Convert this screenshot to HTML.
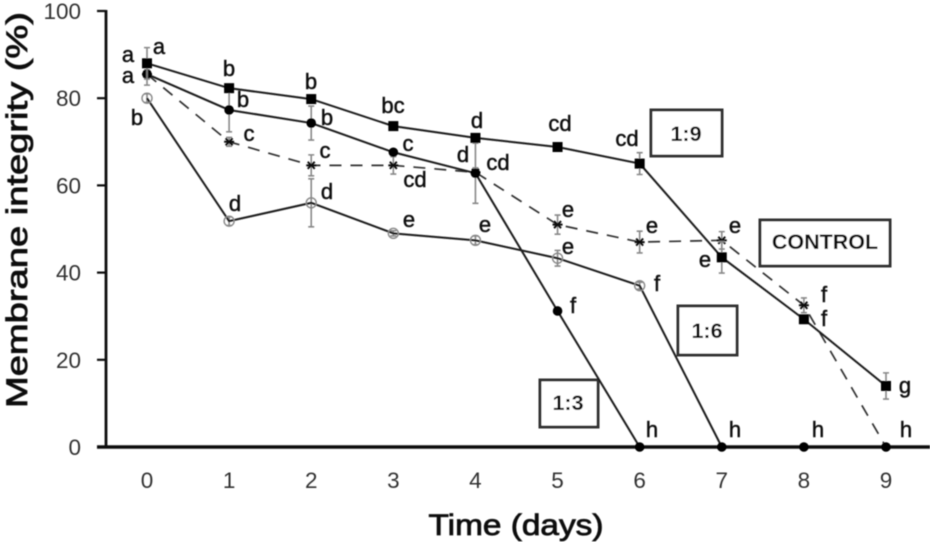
<!DOCTYPE html>
<html>
<head>
<meta charset="utf-8">
<style>
html,body{margin:0;padding:0;background:#fff;width:930px;height:542px;overflow:hidden}
svg{display:block;font-family:"Liberation Sans",sans-serif}
.sig{font-size:22px;font-weight:400;fill:#111;stroke:#111;stroke-width:.45px;text-anchor:middle}
.tick{font-size:22.5px;fill:#333}
.box{fill:#fff;stroke:#333;stroke-width:3}
.boxt{font-size:21.5px;font-weight:700;fill:#111;text-anchor:middle}
</style>
</head>
<body>
<svg id="chart" width="930" height="542" viewBox="0 0 930 542" xmlns="http://www.w3.org/2000/svg">
  <defs><filter id="soft" x="-5%" y="-5%" width="110%" height="110%"><feGaussianBlur stdDeviation="0.5"/></filter></defs>
  <g id="root" filter="url(#soft)">
    <g id="axes"></g>
    <g><rect class="box" x="651" y="110" width="71" height="46"/><text class="boxt" x="686" y="141">1:9</text></g>
    <g><rect class="box" x="760" y="220" width="130" height="46"/><text class="boxt" x="825" y="249">CONTROL</text></g>
    <g><rect class="box" x="678" y="306" width="59" height="49"/><text class="boxt" x="707" y="338">1:6</text></g>
    <g><rect class="box" x="540" y="380" width="58" height="47"/><text class="boxt" x="568" y="410">1:3</text></g>
    <g id="series"></g>
    <text transform="translate(27,210) rotate(-90)" text-anchor="middle" font-size="30" fill="#111" stroke="#111" stroke-width="0.8" textLength="396" lengthAdjust="spacingAndGlyphs">Membrane integrity (%)</text>
    <text x="516" y="535" text-anchor="middle" font-size="30" fill="#111" stroke="#111" stroke-width="0.8" textLength="175" lengthAdjust="spacingAndGlyphs">Time (days)</text>

    <g>
      <text class="sig" x="128" y="62">a</text><text class="sig" x="159" y="54">a</text><text class="sig" x="128" y="83">a</text><text class="sig" x="137" y="125">b</text>
      <text class="sig" x="229" y="76">b</text><text class="sig" x="243" y="107">b</text><text class="sig" x="249" y="141">c</text><text class="sig" x="235" y="211">d</text>
      <text class="sig" x="311" y="89">b</text><text class="sig" x="327" y="125">b</text><text class="sig" x="325" y="158">c</text><text class="sig" x="327" y="199">d</text>
      <text class="sig" x="393" y="113">bc</text><text class="sig" x="408" y="151">c</text><text class="sig" x="415" y="187">cd</text><text class="sig" x="409" y="227">e</text>
      <text class="sig" x="477" y="128">d</text><text class="sig" x="463" y="162">d</text><text class="sig" x="498" y="170">cd</text><text class="sig" x="485" y="232">e</text>
      <text class="sig" x="560" y="131">cd</text><text class="sig" x="568" y="217">e</text><text class="sig" x="568" y="254">e</text><text class="sig" x="573" y="313">f</text>
      <text class="sig" x="627" y="146">cd</text><text class="sig" x="652" y="233">e</text><text class="sig" x="657" y="291">f</text>
      <text class="sig" x="735" y="233">e</text><text class="sig" x="705" y="267">e</text>
      <text class="sig" x="824" y="302">f</text><text class="sig" x="824" y="326">f</text><text class="sig" x="905" y="393">g</text>
      <text class="sig" x="652" y="437">h</text><text class="sig" x="735" y="437">h</text><text class="sig" x="818" y="437">h</text><text class="sig" x="906" y="437">h</text>
    </g>
  </g>
</svg>
<script>
var days = [0, 1, 2, 3, 4, 5, 6, 7, 8, 9];
var yTicks = [0, 20, 40, 60, 80, 100];

var ratio19Values = [88, 82.3, 79.8, 73.6, 70.9, 68.8, 65, 43.5, 29.3, 14];
var ratio19Errors = [3.6, 0, 0, 0, 0, 0, 2.5, 3.6, 0, 3];

var ratio13Values = [85.5, 77.3, 74.3, 67.6, 62.8, 31.2, 0];
var ratio13Errors = [2.5, 5, 3.9, 0, 6.9, 0, 0];

var controlValues = [85.5, 70, 64.6, 64.6, 63, 51, 47, 47.4, 32.5, 0];
var controlErrors = [1, 1, 2.4, 2, 1, 2.2, 2.5, 2, 1.7, 0];

var ratio16Values = [80, 51.8, 56, 49, 47.4, 43.3, 37, 0];
var ratio16Errors = [1, 1, 5.5, 0.6, 1, 1.8, 0.8, 0];

var baselineDays = [6, 7, 8, 9];
var baselineValues = [0, 0, 0, 0];

var NS = 'http://www.w3.org/2000/svg';
function xScale(d) { return 147 + d * (886 - 147) / 9; }
function yScale(v) { return 447 - v * (447 - 11) / 100; }
function make(parent, tag, attrs) {
  var el = document.createElementNS(NS, tag);
  for (var k in attrs) el.setAttribute(k, attrs[k]);
  parent.appendChild(el);
  return el;
}

var axes = document.getElementById('axes');
var seriesLayer = document.getElementById('series');

var yAxis = make(axes, 'line', {x1: 106, x2: 106, y1: yScale(100) - 1, y2: yScale(0) + 1, stroke: '#111', 'stroke-width': 2.8});


var xAxis = make(axes, 'line', {x1: 97, x2: 930, y1: yScale(0), y2: yScale(0), stroke: '#111', 'stroke-width': 3.4});



yTicks.forEach(function (t) {
  var m = make(axes, 'line', {x1: 97, x2: 106, y1: yScale(t), y2: yScale(t), stroke: '#111', 'stroke-width': 2.2});
  
  
  var l = make(axes, 'text', {x: 81, y: yScale(t) + 8, 'class': 'tick', 'text-anchor': 'end'});
  l.textContent = t;
  
  
});
days.forEach(function (d) {
  var l = make(axes, 'text', {x: xScale(d), y: 488, 'class': 'tick', 'text-anchor': 'middle'});
  l.textContent = d;
  
  
});

function drawErrors(g, values, errors) {
  values.forEach(function (v, i) {
    var e = errors[i];
    if (!e) return;
    var x = xScale(days[i]), top = yScale(v + e), bot = yScale(v - e);
    var p = make(g, 'path', {
      d: 'M' + x + ' ' + top + 'V' + bot + 'M' + (x - 3) + ' ' + top + 'H' + (x + 3) + 'M' + (x - 3) + ' ' + bot + 'H' + (x + 3),
      stroke: '#888', 'stroke-width': 1.6, fill: 'none'
    });
    
    
  });
}
function drawLine(g, values, dashed) {
  var pts = values.map(function (v, i) { return xScale(days[i]) + ',' + yScale(v); }).join(' ');
  var attrs = {points: pts, fill: 'none', stroke: dashed ? '#333' : '#1a1a1a', 'stroke-width': dashed ? 1.7 : 2};
  if (dashed) attrs['stroke-dasharray'] = '12 9';
  var pl = make(g, 'polyline', attrs);
  
  
}
function drawMarker(g, kind, x, y) {
  var m;
  if (kind === 'square') {
    m = make(g, 'rect', {x: x - 5, y: y - 5, width: 10, height: 10, fill: '#000'});
  } else if (kind === 'dot') {
    m = make(g, 'circle', {cx: x, cy: y, r: 4.8, fill: '#000'});
  } else if (kind === 'ring') {
    m = make(g, 'circle', {cx: x, cy: y, r: 5, fill: 'none', stroke: '#888', 'stroke-width': 1.4});
  } else {
    m = make(g, 'path', {
      d: 'M' + (x - 3.5) + ' ' + (y - 3.5) + 'L' + (x + 3.5) + ' ' + (y + 3.5) + 'M' + (x + 3.5) + ' ' + (y - 3.5) + 'L' + (x - 3.5) + ' ' + (y + 3.5) + 'M' + (x - 5) + ' ' + y + 'H' + (x + 5),
      stroke: '#111', 'stroke-width': 2, fill: 'none'
    });
  }
  
  
}
function drawSeries(name, values, errors, kind, dashed) {
  var g = make(seriesLayer, 'g', {});
  
  
  drawErrors(g, values, errors);
  drawLine(g, values, dashed);
  values.forEach(function (v, i) {
    if (v > 0) drawMarker(g, kind, xScale(days[i]), yScale(v));
  });
}

drawSeries('series-1-6', ratio16Values, ratio16Errors, 'ring', false);
drawSeries('series-control', controlValues, controlErrors, 'star', true);
drawSeries('series-1-3', ratio13Values, ratio13Errors, 'dot', false);
drawSeries('series-1-9', ratio19Values, ratio19Errors, 'square', false);

var baseG = make(seriesLayer, 'g', {});


baselineDays.forEach(function (d, i) { drawMarker(baseG, 'dot', xScale(d), yScale(baselineValues[i])); });
</script>
</body>
</html>
